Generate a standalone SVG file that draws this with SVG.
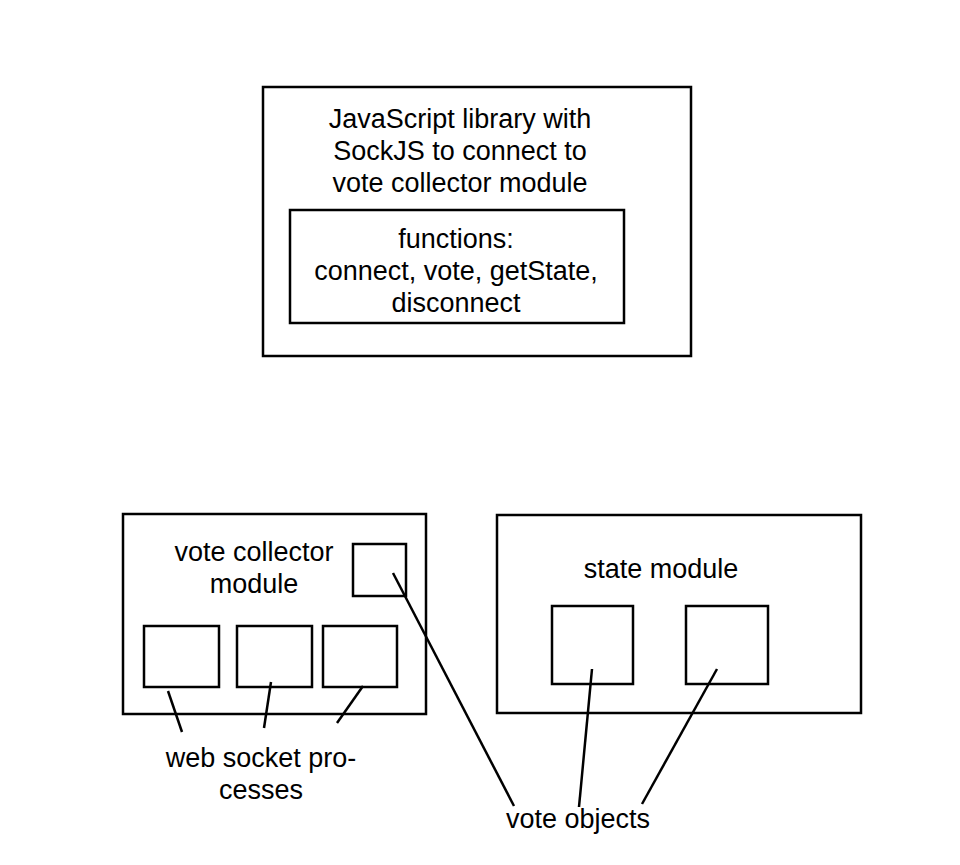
<svg xmlns="http://www.w3.org/2000/svg" width="960" height="865" viewBox="0 0 960 865">
<style>
.b{fill:none;stroke:#000;stroke-width:2.5}
.c line{stroke:#000;stroke-width:2.5}
text{font-family:"Liberation Sans",Arial,sans-serif;font-size:27px;fill:#000;text-anchor:middle}
</style>
<rect width="960" height="865" fill="#fff"/>
<g id="jslib">
<rect class="b" x="263" y="87" width="428" height="269"/>
<text x="460" y="128">JavaScript library with</text>
<text x="460" y="160">SockJS to connect to</text>
<text x="460" y="192">vote collector module</text>
</g>
<g id="functions">
<rect class="b" x="290" y="210" width="334" height="113"/>
<text x="456" y="248">functions:</text>
<text x="456" y="280">connect, vote, getState,</text>
<text x="456" y="312">disconnect</text>
</g>
<g id="collector">
<rect class="b" x="123" y="514" width="303" height="200"/>
<text x="254" y="561">vote collector</text>
<text x="254" y="593">module</text>
</g>
<g id="cvote"><rect class="b" x="353" y="544" width="53" height="52"/></g>
<g id="ws1"><rect class="b" x="144" y="626" width="75" height="61"/></g>
<g id="ws2"><rect class="b" x="237" y="626" width="75" height="61"/></g>
<g id="ws3"><rect class="b" x="323" y="626" width="74" height="61"/></g>
<g id="state">
<rect class="b" x="497" y="515" width="364" height="198"/>
<text x="661" y="578">state module</text>
</g>
<g id="sv1"><rect class="b" x="552" y="606" width="81" height="78"/></g>
<g id="sv2"><rect class="b" x="686" y="606" width="82" height="78"/></g>
<g id="wslabel">
<text x="261" y="767">web socket pro-</text>
<text x="261" y="799">cesses</text>
</g>
<g id="votelabel"><text x="578" y="828">vote objects</text></g>
<g class="c" id="connectors">
<line x1="168" y1="691" x2="182" y2="732"/>
<line x1="271" y1="682" x2="264" y2="728"/>
<line x1="363" y1="686" x2="337" y2="723"/>
<line x1="393" y1="573" x2="514" y2="806"/>
<line x1="592" y1="669" x2="579" y2="807"/>
<line x1="717" y1="669" x2="642" y2="804"/>
</g>
</svg>
